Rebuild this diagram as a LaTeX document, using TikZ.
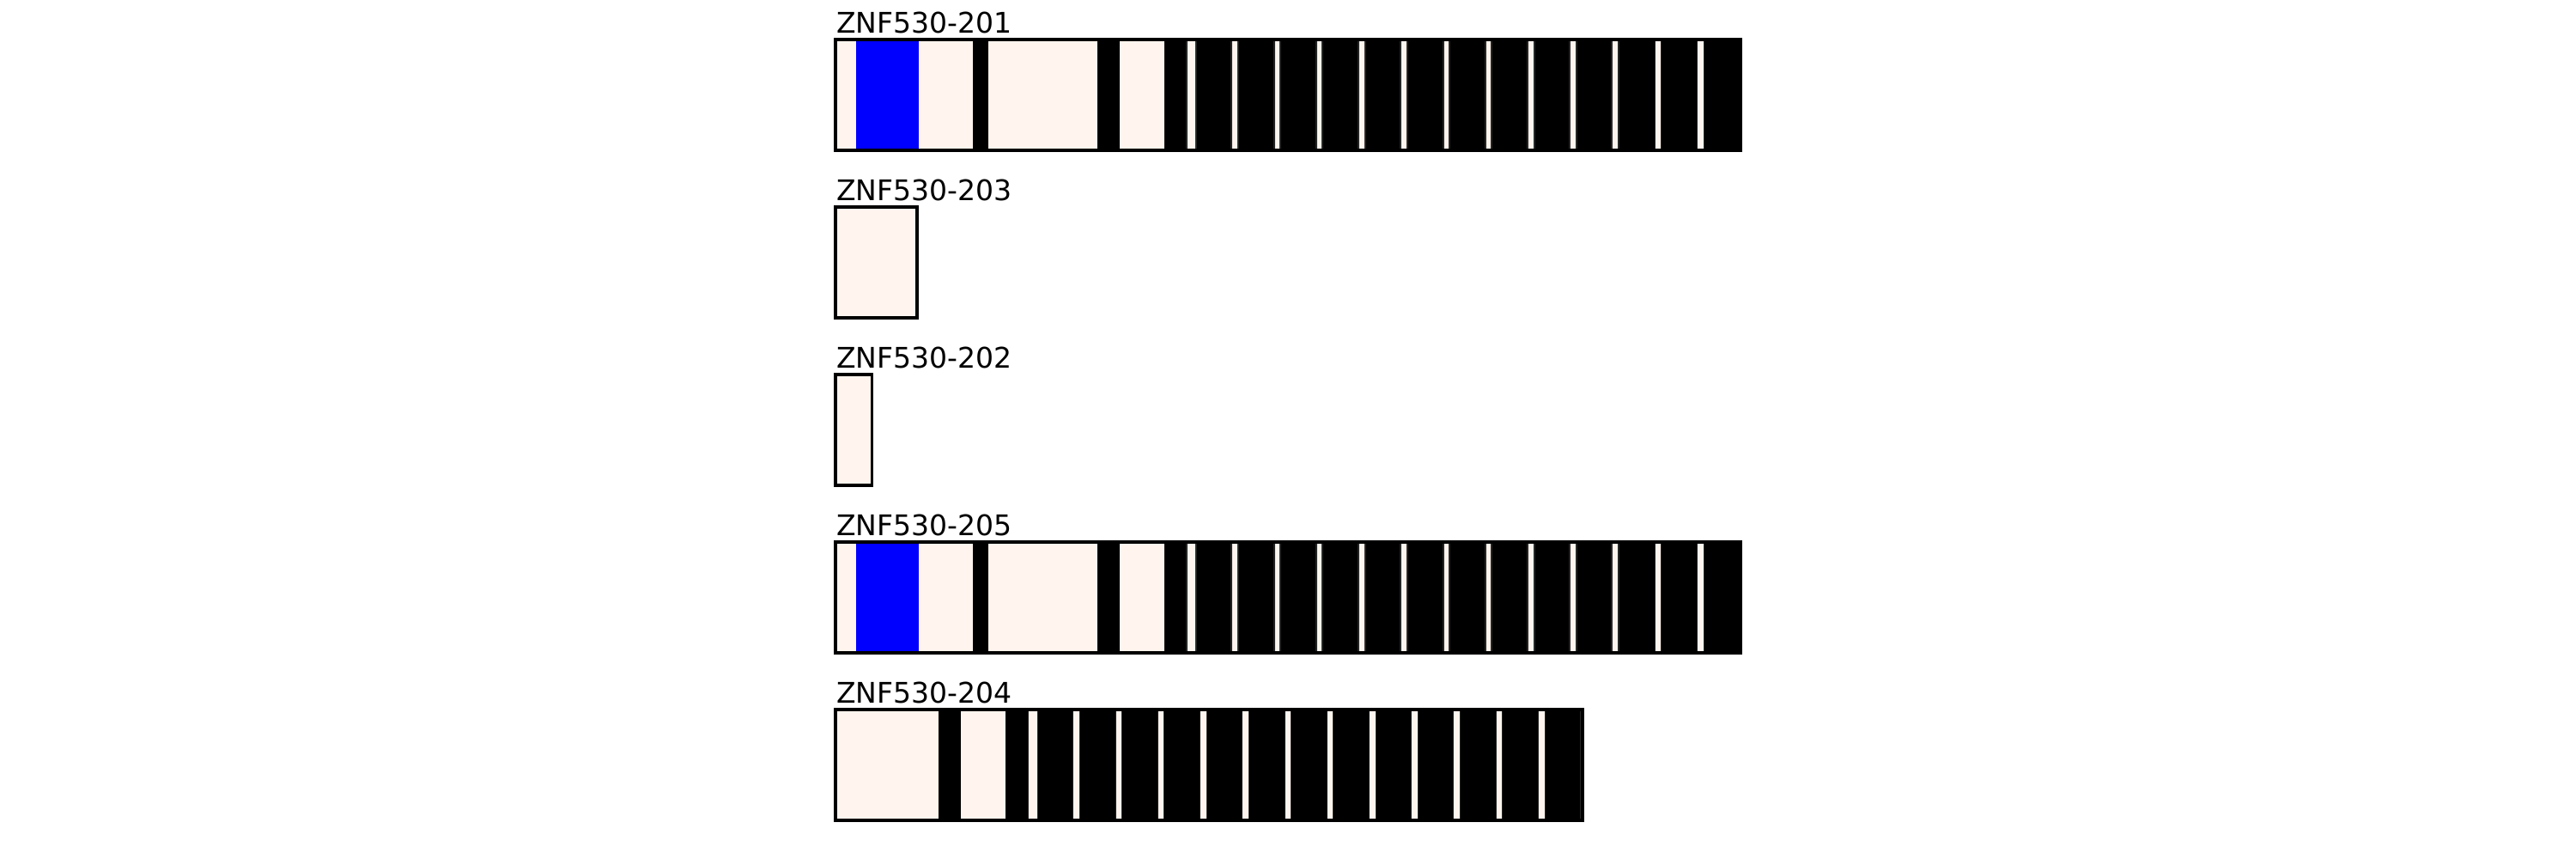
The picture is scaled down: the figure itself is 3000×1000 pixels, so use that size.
\documentclass[tikz,border=0pt]{standalone}
\usepackage{fontspec}
\setmainfont{DejaVu Sans}
\definecolor{seashellc}{RGB}{255,245,238}
\newcommand\stripesA{%
  \fill[blue] (997,0) rectangle (1070,129);
  \fill[black] (1132.5,0) rectangle (1151,129);
  \fill[black] (1278,0) rectangle (1304,129);
  \fill[black] (1356,0) rectangle (2027,129);
  \foreach \a/\b in {1382/1393,1434/1442,1484/1491,1533/1540,1582/1590,1631/1639,1681/1688,1730/1737,1779/1787,1828/1836,1877/1885,1927/1934,1976/1984,2025/2026.5}
    \draw[stripebox] (\a,1.5) rectangle (\b,127.5);
}
\begin{document}
\begin{tikzpicture}[x=0.01cm,y=-0.01cm]
\tikzset{
  lbl/.style={anchor=base west,inner sep=0pt,outer sep=0pt,font=\fontsize{9.4}{11}\selectfont},
  outline/.style={draw=black,line width=0.95pt},
  stripebox/.style={fill=seashellc,draw=black!85,line width=0.3pt}
}
\useasboundingbox (0,0) rectangle (3000,1000);
% ZNF530-201
\node[lbl] (l201) at (974,38) {ZNF530-201};
\begin{scope}[shift={(0,46)}]
  \fill[seashellc] (973,0) rectangle (2027,129);
  \stripesA
  \draw[outline] (973,0) rectangle (2027,129);
\end{scope}
% ZNF530-203
\node[lbl] (l203) at (974,233) {ZNF530-203};
\begin{scope}[shift={(0,241)}]
  \draw[outline,fill=seashellc] (973,0) rectangle (1068,129);
\end{scope}
% ZNF530-202
\node[lbl] (l202) at (974,428) {ZNF530-202};
\begin{scope}[shift={(0,436)}]
  \draw[outline,fill=seashellc] (973,0) rectangle (1015.5,129);
\end{scope}
% ZNF530-205
\node[lbl] (l205) at (974,623) {ZNF530-205};
\begin{scope}[shift={(0,631)}]
  \fill[seashellc] (973,0) rectangle (2027,129);
  \stripesA
  \draw[outline] (973,0) rectangle (2027,129);
\end{scope}
% ZNF530-204
\node[lbl] (l204) at (974,818) {ZNF530-204};
\begin{scope}[shift={(0,826)}]
  \fill[seashellc] (973,0) rectangle (1843,129);
  \begin{scope}
    \clip (973,0) rectangle (1843,129);
    \begin{scope}[shift={(-184.7,0)}]
      \stripesA
    \end{scope}
  \end{scope}
  \draw[outline] (973,0) rectangle (1843,129);
\end{scope}
\end{tikzpicture}
\end{document}
